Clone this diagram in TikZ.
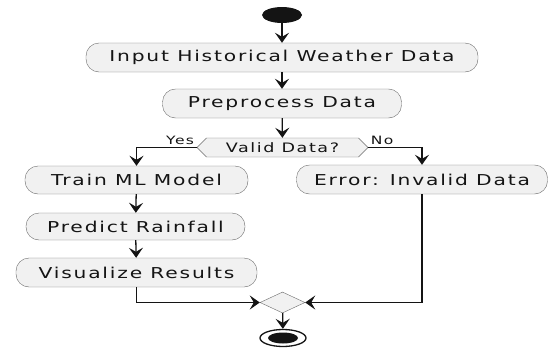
\documentclass[tikz,border=0pt]{standalone}
\usepackage{fontspec}
\setmainfont[FakeStretch=1.35,LetterSpace=12]{DejaVu Sans}
\usetikzlibrary{shapes.geometric,shapes.symbols,arrows.meta}
\definecolor{boxfill}{HTML}{F1F1F1}
\definecolor{boxline}{HTML}{6A6A6A}
\definecolor{ink}{HTML}{141414}

\begin{document}
\begin{tikzpicture}[x=1pt,y=-1pt,
	act/.style={draw=boxline, fill=boxfill, rounded corners=13pt, minimum height=29pt, inner sep=0pt, text=ink, font=\fontsize{15}{17}\selectfont},
	arr/.style={draw=ink, line width=1.3pt, -{Stealth[length=10pt,width=14pt,inset=4pt]}},
	lbl/.style={inner sep=2pt, text=ink, font=\fontsize{11.5}{12}\selectfont}]
			\useasboundingbox (0,0) rectangle (549,351);
			% start and activities
			\node[ellipse, fill=ink, minimum width=40pt, minimum height=16pt, inner sep=0pt] (start) at (282,15) {};
			\node[act, minimum width=392pt] (input) at (282,57.5) {Input Historical Weather Data};
			\node[act, minimum width=239pt] (prep) at (282,103.5) {Preprocess Data};
			\node[signal, signal to=west and east, draw=boxline, fill=boxfill, minimum width=171pt, minimum height=19pt, inner sep=0pt, text=ink, font=\fontsize{13}{14}\selectfont] (valid) at (282.5,147.5) {Valid Data?};
			\node[act, minimum width=223pt, minimum height=28pt] (train) at (136.5,180) {Train ML Model};
			\node[act, minimum width=251pt] (err) at (422,179.5) {Error: Invalid Data};
			\node[act, minimum width=219pt, minimum height=27pt] (pred) at (135.5,226.5) {Predict Rainfall};
			\node[act, minimum width=241pt] (vis) at (136.5,272.5) {Visualize Results};
			% merge and end
			\node[diamond, draw=boxline, fill=boxfill, minimum width=45pt, minimum height=21pt, inner sep=0pt] (merge) at (282.5,302.5) {};
			\node[ellipse, draw=ink, line width=1.3pt, fill=white, minimum width=46pt, minimum height=17pt, inner sep=0pt] (end) at (283,338) {};
			\node[ellipse, fill=ink, minimum width=30pt, minimum height=11pt, inner sep=0pt] (endcore) at (283,338) {};
			
			\draw[arr] (start) -- (input);
			\draw[arr] (input) -- (prep);
			\draw[arr] (prep) -- (valid);
			\draw[arr] (valid.west) -| node[at start, lbl, anchor=south east] {Yes} (train.north);
			\draw[arr] (valid.east) -| node[at start, lbl, anchor=south west] {No} (err.north);
			\draw[arr] (train) -- (pred);
			\draw[arr] (pred) -- (vis);
			\draw[arr] (vis.south) |- (merge.west);
			\draw[arr] (err.south) |- (merge.east);
			\draw[arr] (merge) -- (end);
		\end{tikzpicture}
\end{document}
